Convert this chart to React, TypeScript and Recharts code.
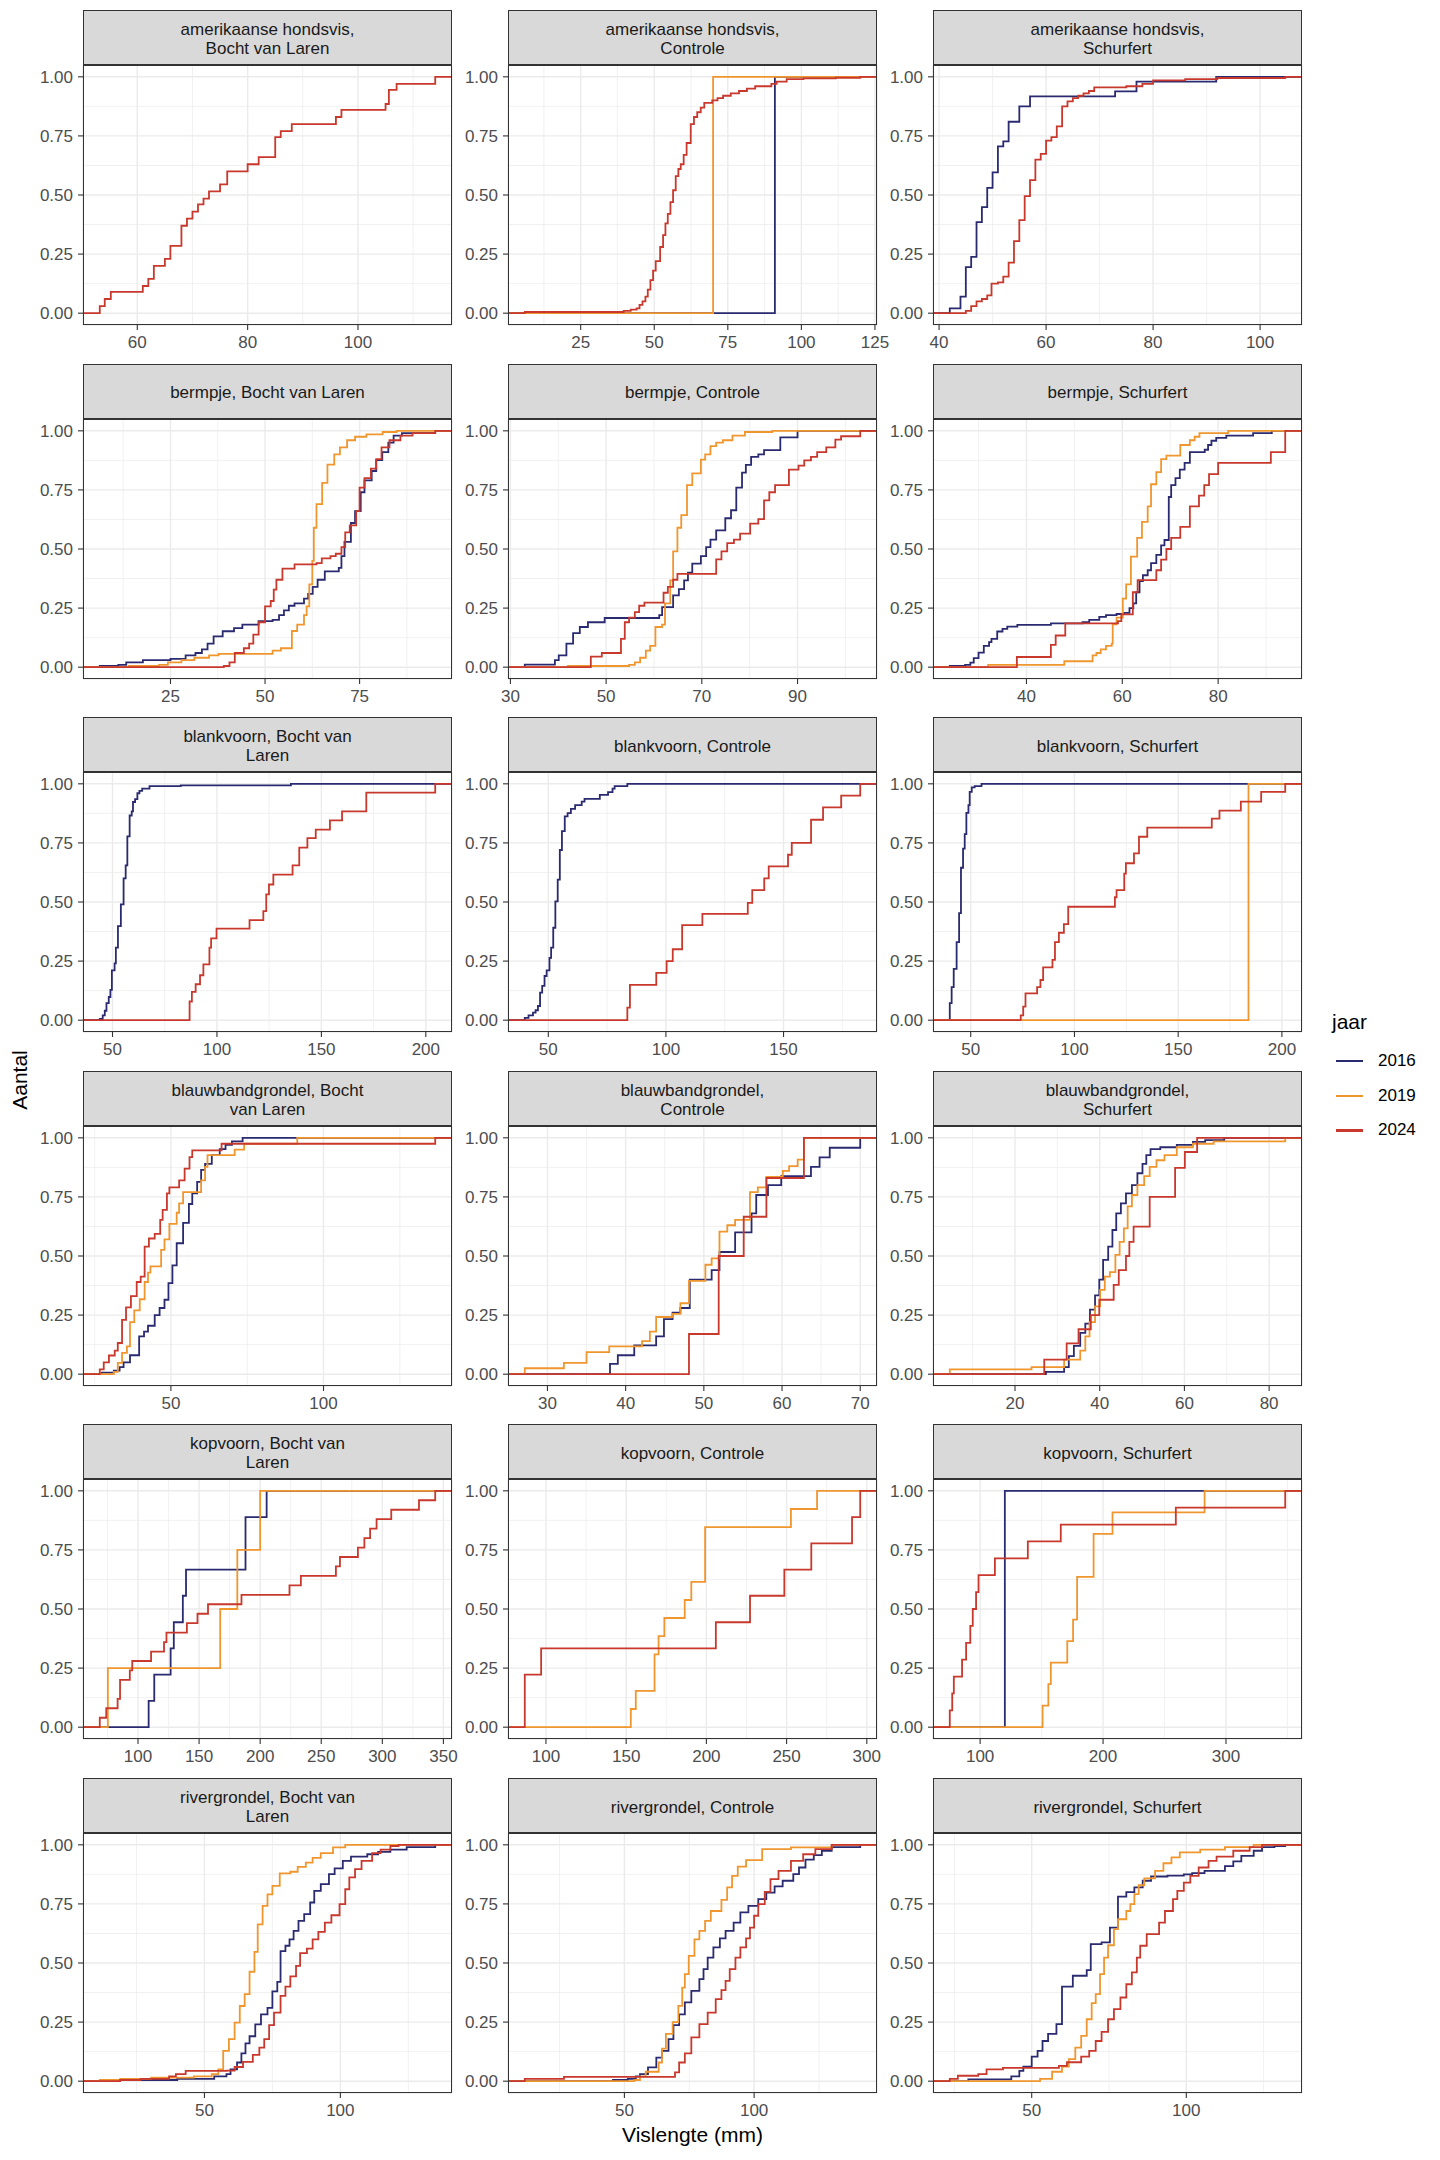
import React from 'react';
import { LineChart, Line, XAxis, YAxis, CartesianGrid } from 'recharts';

type Step = [number, number];

// ---- data: ECDF steps per species / location / year ----
const amhBocht2024: Step[] = [[53.2,0.03],[54.1,0.06],[55.2,0.09],[61,0.115],[62,0.145],[63,0.2],[65,0.23],[66,0.285],[68,0.37],[69,0.4],[70,0.43],[71,0.46],[72,0.485],[73,0.515],[75,0.545],[76.3,0.6],[80,0.63],[82,0.66],[85,0.745],[86,0.77],[88,0.8],[96,0.83],[97,0.86],[105,0.885],[105.6,0.945],[107,0.97],[114,1]];

const amhControle2016: Step[] = [[91,1]];
const amhControle2019: Step[] = [[70,1]];
const amhControle2024: Step[] = [[6,0.005],[39.6,0.01],[42,0.015],[44,0.02],[45,0.035],[46,0.05],[47,0.07],[47.8,0.1],[48.7,0.14],[49.6,0.18],[50.5,0.22],[52,0.28],[53,0.33],[53.8,0.38],[54.6,0.42],[55.5,0.47],[56.4,0.52],[57.3,0.58],[58.2,0.61],[59,0.63],[60,0.67],[61,0.72],[62.4,0.8],[63.5,0.83],[64.6,0.85],[65.8,0.87],[67,0.89],[69.7,0.9],[71.5,0.91],[73.4,0.92],[76,0.93],[78.8,0.94],[81.5,0.95],[84.3,0.96],[89.8,0.97],[91.6,0.98],[95,0.99],[100.7,0.993],[111.7,0.996],[120,1]];

const amhSchurfert2016: Step[] = [[42,0.02],[44,0.07],[45,0.195],[46,0.238],[47,0.385],[48,0.449],[49,0.53],[50,0.596],[51,0.706],[52,0.727],[53,0.81],[55,0.875],[57,0.917],[72.9,0.938],[76.9,0.98],[91.8,1]];
const amhSchurfert2024: Step[] = [[45,0.01],[46,0.03],[47,0.05],[48,0.06],[49,0.075],[49.8,0.125],[51,0.13],[52,0.155],[53,0.214],[54,0.305],[55,0.394],[56,0.495],[57,0.563],[58,0.65],[59,0.674],[60,0.73],[61,0.745],[62,0.79],[63,0.875],[64,0.896],[65,0.91],[66,0.92],[67,0.93],[68,0.94],[69,0.955],[75,0.96],[78,0.97],[80,0.985],[86,0.99],[92,0.995],[104.7,1]];

const bermBocht2016: Step[] = [[6.3,0.005],[11.2,0.01],[13.3,0.02],[17.7,0.03],[25,0.035],[29,0.05],[31.6,0.06],[33.3,0.075],[34.8,0.1],[36.4,0.13],[38.8,0.152],[41.8,0.165],[44,0.18],[48.3,0.195],[52,0.2],[53.7,0.22],[55,0.24],[56.3,0.26],[57.8,0.27],[60.3,0.29],[61.4,0.31],[62.6,0.34],[63.9,0.37],[65.8,0.405],[69.5,0.42],[70.2,0.47],[71,0.53],[72.7,0.61],[73.8,0.66],[75.3,0.74],[76.3,0.79],[78.2,0.83],[79.4,0.876],[81,0.91],[82.6,0.95],[84,0.98],[86.2,0.99],[95,1]];
const bermBocht2019: Step[] = [[14,0.005],[22,0.01],[24.3,0.02],[27.9,0.03],[31.3,0.04],[35.2,0.05],[37.7,0.056],[52,0.07],[54.2,0.08],[57.1,0.153],[58.5,0.18],[60.3,0.22],[61,0.257],[61.7,0.35],[62.5,0.45],[62.9,0.59],[63.6,0.69],[65.1,0.78],[66.5,0.857],[68.3,0.9],[69.8,0.93],[71.7,0.96],[73.8,0.975],[76.8,0.985],[81.1,0.995],[84.8,1]];
const bermBocht2024: Step[] = [[39.1,0.005],[40.6,0.02],[42,0.06],[44.4,0.08],[45.8,0.1],[46.9,0.138],[48.3,0.19],[50,0.257],[51.5,0.28],[52.3,0.328],[53,0.37],[54.6,0.417],[57.8,0.435],[63.6,0.44],[65,0.46],[67.3,0.47],[68.7,0.48],[70.2,0.508],[71.2,0.57],[72.4,0.6],[74.1,0.66],[75,0.76],[76.3,0.8],[78,0.84],[79.4,0.88],[80.8,0.93],[82.9,0.96],[85.8,0.98],[89,0.99],[95,1]];

const bermControle2016: Step[] = [[33,0.011],[39.3,0.03],[40.1,0.05],[41.7,0.1],[43.1,0.144],[44.5,0.17],[46.2,0.19],[49.7,0.208],[61.1,0.22],[61.7,0.254],[64,0.304],[65.2,0.33],[66.3,0.367],[67.1,0.4],[68,0.438],[69.8,0.47],[70.9,0.508],[71.8,0.54],[73,0.579],[74.9,0.63],[76.1,0.664],[77.2,0.76],[78.4,0.823],[79.2,0.856],[80.3,0.89],[81.8,0.9],[83,0.918],[86.4,0.972],[90,1]];
const bermControle2019: Step[] = [[42,0.005],[54.8,0.01],[56,0.02],[57.1,0.04],[58.3,0.07],[59.2,0.09],[60.3,0.17],[61.7,0.18],[62.3,0.27],[63.4,0.367],[64,0.49],[64.9,0.59],[65.7,0.643],[66.9,0.77],[68,0.82],[69.8,0.878],[70.7,0.9],[71.8,0.935],[73,0.95],[74.4,0.96],[76.4,0.98],[79,0.995],[84.7,1]];
const bermControle2024: Step[] = [[46.8,0.045],[49.1,0.06],[53.1,0.12],[53.9,0.19],[54.8,0.21],[56,0.233],[56.9,0.26],[58,0.273],[62,0.315],[62.9,0.34],[64,0.37],[64.9,0.395],[73,0.456],[74.1,0.49],[75.3,0.525],[76.7,0.54],[78,0.565],[80.1,0.607],[81.8,0.626],[83,0.706],[84.1,0.74],[85.3,0.77],[88.2,0.836],[90.2,0.853],[91.4,0.875],[92.8,0.89],[94.1,0.91],[96,0.93],[97.9,0.963],[99.1,0.977],[103.1,1]];

const bermSchurfert2016: Step[] = [[24,0.005],[27.2,0.01],[28.3,0.019],[29,0.038],[30,0.062],[31.1,0.09],[32.2,0.106],[32.7,0.12],[33.9,0.151],[35,0.162],[36,0.172],[38.1,0.179],[45.1,0.185],[51.7,0.19],[53.1,0.2],[55.2,0.213],[56.6,0.22],[58.8,0.225],[60.4,0.23],[61.5,0.25],[62.3,0.27],[62.9,0.317],[63.6,0.364],[64.3,0.389],[65.3,0.41],[66,0.44],[67.1,0.475],[68.1,0.515],[68.8,0.538],[69.7,0.72],[70.2,0.77],[71.1,0.8],[72,0.836],[73,0.864],[74.1,0.91],[77.2,0.92],[77.9,0.94],[78.6,0.958],[79.6,0.97],[81.7,0.98],[87.3,0.99],[91.2,1]];
const bermSchurfert2019: Step[] = [[32,0.01],[47.9,0.025],[53.8,0.05],[54.6,0.06],[55.5,0.075],[56.6,0.09],[57.8,0.1],[58,0.181],[58.8,0.21],[60.1,0.29],[60.8,0.35],[61.8,0.468],[63.1,0.547],[64.1,0.615],[65.3,0.68],[66,0.774],[67.1,0.825],[68.1,0.88],[69.2,0.895],[72.1,0.94],[74.1,0.96],[75.1,0.975],[76.1,0.99],[82.1,1]];
const bermSchurfert2024: Step[] = [[38,0.043],[45.1,0.094],[46.1,0.134],[48.1,0.185],[59.1,0.195],[59.8,0.223],[62.2,0.317],[63.2,0.368],[67.1,0.41],[68.1,0.455],[69.2,0.5],[70.2,0.547],[72.1,0.594],[74.1,0.68],[76,0.726],[77.1,0.77],[78.1,0.817],[80,0.864],[91,0.91],[94,1]];

const blankBocht2016: Step[] = [[43.9,0.005],[45.3,0.02],[46.3,0.04],[47.1,0.072],[48.2,0.098],[49,0.128],[49.7,0.211],[51,0.24],[51.6,0.307],[52.6,0.398],[54,0.49],[55.3,0.6],[56.3,0.655],[57.1,0.778],[58.2,0.866],[59.2,0.883],[59.8,0.923],[60.8,0.935],[61.9,0.96],[62.9,0.97],[64.2,0.98],[67.7,0.99],[82.7,0.993],[135.4,1]];
const blankBocht2024: Step[] = [[86.9,0.079],[88,0.12],[89.8,0.152],[91.9,0.19],[93.5,0.236],[96.4,0.307],[97.2,0.346],[99.8,0.387],[115.6,0.423],[122.2,0.461],[123.6,0.532],[124.9,0.574],[127,0.616],[136.2,0.655],[139.4,0.73],[143.3,0.77],[147.3,0.806],[154.1,0.845],[159.9,0.883],[171.5,0.963],[204.5,1]];

const blankControle2016: Step[] = [[40,0.01],[41.6,0.02],[43.5,0.032],[44.6,0.042],[45.6,0.06],[46.5,0.117],[47.4,0.145],[48.4,0.187],[49.3,0.211],[50.5,0.264],[51.2,0.307],[52.1,0.391],[53,0.503],[54,0.595],[54.9,0.72],[55.8,0.8],[57,0.862],[58.2,0.876],[59.6,0.894],[61.4,0.91],[64.2,0.925],[65.4,0.936],[71.9,0.953],[75.4,0.965],[77.3,0.98],[78.2,0.99],[83.6,1]];
const blankControle2024: Step[] = [[83.6,0.053],[84.7,0.149],[95.9,0.2],[100.3,0.25],[102.9,0.3],[106.9,0.402],[115.5,0.45],[134.8,0.496],[136.7,0.55],[141.8,0.6],[143.7,0.651],[151.9,0.7],[153.5,0.75],[161.7,0.848],[166.8,0.9],[174.5,0.95],[182.6,1]];

const blankSchurfert2016: Step[] = [[39.9,0.072],[40.8,0.14],[41.8,0.217],[43.2,0.33],[44.4,0.453],[45.3,0.645],[46.3,0.726],[47.1,0.787],[47.9,0.877],[48.9,0.91],[49.5,0.966],[50.5,0.985],[51.9,0.99],[55.2,1]];
const blankSchurfert2019: Step[] = [[183.9,1]];
const blankSchurfert2024: Step[] = [[74.1,0.02],[75.3,0.057],[76.4,0.113],[82,0.14],[83.6,0.17],[84.9,0.223],[89.4,0.255],[90.6,0.33],[92.5,0.37],[94.9,0.406],[97,0.48],[119.5,0.52],[120.3,0.55],[124,0.62],[124.8,0.664],[128.7,0.706],[131.1,0.776],[135.1,0.815],[166.2,0.853],[169.9,0.887],[180.2,0.925],[190,0.966],[201.6,1]];

const blauwBocht2016: Step[] = [[27.3,0.007],[31.3,0.015],[33.2,0.03],[34.5,0.05],[36.6,0.08],[39.6,0.16],[41.2,0.18],[42.5,0.205],[44.7,0.25],[46.3,0.28],[47.9,0.315],[49.2,0.385],[50.5,0.46],[51.9,0.554],[54,0.64],[55.9,0.72],[57,0.765],[58.6,0.814],[59.9,0.864],[61.2,0.89],[63.4,0.927],[66,0.952],[67.9,0.97],[70,0.985],[73.5,1]];
const blauwBocht2019: Step[] = [[31.3,0.01],[32.6,0.048],[34,0.09],[35.6,0.118],[36.6,0.22],[38,0.27],[39.8,0.317],[41.4,0.39],[42.5,0.43],[43.3,0.456],[46.8,0.526],[47.9,0.57],[49.5,0.636],[51.9,0.683],[52.7,0.723],[54,0.77],[59.9,0.82],[61.2,0.877],[62,0.927],[70.9,0.95],[74,0.975],[91.4,1]];
const blauwBocht2024: Step[] = [[26.7,0.02],[28,0.05],[29.7,0.079],[31.6,0.1],[32.6,0.132],[34,0.23],[35.3,0.283],[36.9,0.33],[38.8,0.39],[40.1,0.413],[41.4,0.54],[42.8,0.574],[44.7,0.594],[46.5,0.653],[47.3,0.695],[48.7,0.765],[49.5,0.79],[52.7,0.82],[54.5,0.87],[56.1,0.918],[57,0.947],[66.6,0.975],[136.6,1]];

const blauwControle2016: Step[] = [[38,0.044],[39,0.08],[41.1,0.122],[43.9,0.16],[44.9,0.233],[46,0.26],[47,0.28],[48.2,0.4],[51,0.44],[52,0.517],[54,0.6],[56.1,0.68],[56.7,0.758],[58.2,0.8],[59.9,0.838],[63.7,0.877],[64.8,0.917],[66.1,0.958],[70,1]];
const blauwControle2019: Step[] = [[27.1,0.025],[32.1,0.048],[35,0.093],[37.9,0.118],[42.1,0.14],[43.1,0.18],[43.9,0.242],[46,0.255],[47,0.3],[48.1,0.395],[50.2,0.463],[51,0.49],[52,0.603],[53,0.63],[54,0.653],[55.9,0.77],[56.9,0.79],[58,0.835],[60.1,0.86],[60.9,0.88],[62,0.908],[62.8,1]];
const blauwControle2024: Step[] = [[48.1,0.17],[51.9,0.5],[55.1,0.666],[58,0.83],[62.8,1]];

const blauwSchurfert2016: Step[] = [[27.3,0.01],[31.6,0.03],[32.7,0.076],[33.9,0.12],[35.4,0.175],[36.6,0.214],[37.7,0.273],[38.9,0.333],[39.9,0.4],[40.8,0.484],[42,0.54],[43,0.61],[43.9,0.68],[45,0.723],[46.2,0.765],[47.6,0.8],[48.9,0.85],[50.1,0.89],[51,0.927],[52,0.952],[54.3,0.96],[58.2,0.97],[62,0.983],[64.9,0.99],[69.4,1]];
const blauwSchurfert2019: Step[] = [[4.6,0.02],[23.9,0.03],[31.6,0.062],[35.4,0.1],[36.6,0.16],[37.6,0.22],[38.9,0.287],[40.1,0.357],[41.2,0.413],[42.4,0.432],[43.7,0.505],[44.7,0.56],[45.7,0.617],[46.6,0.71],[47.6,0.758],[48.9,0.8],[50.5,0.838],[51.8,0.877],[53.4,0.905],[55.3,0.927],[58.2,0.96],[62,0.975],[66.9,0.985],[83.8,1]];
const blauwSchurfert2024: Step[] = [[26.9,0.062],[32.2,0.13],[35,0.19],[37.9,0.25],[39.9,0.315],[43.3,0.378],[44.5,0.44],[46.2,0.5],[47,0.56],[48,0.624],[51.8,0.75],[57.8,0.873],[60.1,0.94],[63,1]];

const kopBocht2016: Step[] = [[108.7,0.111],[113.3,0.222],[126.7,0.333],[129.3,0.444],[136.7,0.556],[139.3,0.667],[188,0.889],[205.3,1]];
const kopBocht2019: Step[] = [[75.3,0.25],[167.3,0.5],[181.3,0.75],[200,1]];
const kopBocht2024: Step[] = [[68.7,0.04],[74,0.08],[83.3,0.12],[85.3,0.2],[93.3,0.24],[95.3,0.28],[110.7,0.32],[121.3,0.36],[123.3,0.4],[140,0.44],[148.7,0.48],[157.3,0.52],[184.7,0.56],[224,0.6],[233.3,0.64],[262,0.68],[265.3,0.72],[280,0.76],[285.3,0.8],[290,0.84],[295.3,0.88],[307.3,0.92],[330,0.96],[343.3,1]];

const kopControle2019: Step[] = [[152.9,0.077],[156,0.154],[167.7,0.308],[170.2,0.385],[173.8,0.462],[186.5,0.538],[190.6,0.615],[199.2,0.846],[252.7,0.923],[269,1]];
const kopControle2024: Step[] = [[86.8,0.222],[97,0.333],[205.9,0.444],[227.2,0.556],[248.6,0.667],[265.4,0.778],[290.8,0.889],[295.9,1]];

const kopSchurfert2016: Step[] = [[120.1,1]];
const kopSchurfert2019: Step[] = [[150.8,0.091],[155.5,0.182],[157.5,0.273],[170.9,0.364],[175.6,0.455],[178.9,0.636],[192.3,0.818],[207.7,0.909],[282.6,1]];
const kopSchurfert2024: Step[] = [[75.3,0.071],[77.3,0.143],[78.6,0.214],[85.3,0.286],[88.6,0.357],[92,0.429],[94,0.5],[96.7,0.571],[98.7,0.643],[112,0.714],[138.8,0.786],[165.6,0.857],[259.2,0.929],[348.2,1]];

const rivBocht2016: Step[] = [[13,0.005],[40,0.01],[53.6,0.02],[58.1,0.03],[59.6,0.05],[62,0.079],[63.6,0.118],[65.1,0.16],[66.6,0.19],[68.7,0.24],[70.8,0.283],[73.2,0.31],[75,0.38],[76.8,0.42],[78,0.55],[79.8,0.573],[81.3,0.6],[82.8,0.636],[84.6,0.678],[86.7,0.707],[88.9,0.756],[90.4,0.805],[92.8,0.834],[95.8,0.876],[97.9,0.9],[100.9,0.932],[103.9,0.95],[109.9,0.96],[113.9,0.97],[118.4,0.98],[124.4,0.99],[134.9,1]];
const rivBocht2019: Step[] = [[11.5,0.005],[19,0.01],[30.4,0.015],[46.1,0.02],[52.7,0.03],[55.1,0.05],[56.9,0.128],[59,0.178],[61.1,0.248],[63,0.318],[64.8,0.368],[66.6,0.463],[68.4,0.547],[69.6,0.663],[71.4,0.742],[73.2,0.79],[75,0.826],[77.7,0.879],[81.6,0.886],[84.3,0.907],[87.3,0.925],[89.8,0.945],[92.8,0.965],[97.3,0.989],[101.8,1]];
const rivBocht2024: Step[] = [[19,0.005],[26.5,0.01],[37,0.02],[39.5,0.03],[43.1,0.044],[58.1,0.045],[61.1,0.06],[64.2,0.082],[67.8,0.111],[70.2,0.142],[72,0.178],[73.8,0.237],[75.6,0.29],[78,0.361],[79.8,0.4],[81.6,0.443],[83.7,0.488],[85.2,0.542],[87.7,0.561],[89.8,0.6],[91.9,0.632],[94.3,0.671],[96.7,0.702],[99.7,0.749],[101.8,0.812],[103.3,0.862],[105.4,0.897],[107.8,0.932],[111.7,0.965],[114.8,0.98],[118.4,0.995],[121.4,1]];

const rivControle2016: Step[] = [[45.6,0.005],[51.3,0.01],[54.4,0.02],[56,0.03],[59.1,0.058],[62.3,0.1],[64.5,0.128],[67,0.178],[68.9,0.237],[71.1,0.283],[73.3,0.333],[75.8,0.382],[78.9,0.432],[80.5,0.474],[82.1,0.523],[84.3,0.566],[86.8,0.604],[89,0.636],[92.1,0.671],[94.7,0.714],[97.8,0.742],[101.6,0.77],[104.7,0.798],[107.9,0.824],[111,0.848],[115.1,0.876],[117.3,0.904],[119.8,0.937],[123,0.956],[126.1,0.975],[129.9,0.99],[140.9,1]];
const rivControle2019: Step[] = [[53.8,0.005],[56,0.02],[58.2,0.04],[63.2,0.079],[64.5,0.138],[66,0.2],[68.6,0.25],[70.8,0.319],[72.3,0.396],[73.3,0.453],[74.8,0.53],[77,0.6],[78.9,0.636],[81.1,0.678],[83.3,0.72],[87.4,0.767],[89.6,0.82],[91.5,0.869],[93.7,0.908],[96.9,0.935],[103.1,0.982],[114.2,0.989],[129.9,1]];
const rivControle2024: Step[] = [[11.6,0.01],[26.7,0.018],[69.5,0.037],[71.1,0.079],[73.3,0.118],[75.8,0.185],[78.9,0.241],[82.1,0.29],[85.2,0.347],[87.4,0.385],[89,0.424],[90.6,0.474],[92.8,0.523],[94.7,0.566],[96.9,0.604],[98.4,0.65],[100,0.7],[101.6,0.749],[104.1,0.801],[106.3,0.855],[109.4,0.89],[114.2,0.932],[118.9,0.96],[123.6,0.982],[129.9,1]];

const rivSchurfert2016: Step[] = [[29.5,0.008],[43.4,0.02],[46,0.044],[47.3,0.062],[50,0.104],[51.9,0.128],[53.5,0.17],[55.3,0.2],[58,0.241],[59.8,0.4],[63.3,0.446],[67.8,0.47],[69.1,0.58],[72.6,0.587],[75.3,0.65],[77.9,0.781],[80.6,0.8],[83.2,0.82],[85.9,0.848],[88.6,0.866],[93.9,0.87],[99.2,0.875],[101.9,0.88],[105.9,0.89],[112.5,0.91],[115.2,0.93],[117.8,0.953],[121.8,0.975],[124.5,0.99],[128.5,0.995],[132,1]];
const rivSchurfert2019: Step[] = [[52.7,0.01],[56.6,0.04],[59.8,0.062],[62,0.093],[64.1,0.142],[66,0.192],[67.8,0.262],[69.4,0.33],[70.7,0.368],[72.1,0.453],[73.4,0.523],[74.7,0.575],[76.6,0.643],[77.9,0.685],[80.6,0.72],[81.9,0.749],[83.2,0.791],[84.6,0.829],[86.4,0.858],[89.9,0.89],[92.6,0.922],[95.2,0.947],[97.9,0.968],[104.5,0.98],[112.5,0.99],[121.8,1]];
const rivSchurfert2024: Step[] = [[23.5,0.01],[26.1,0.023],[32.7,0.03],[35.4,0.05],[40.7,0.056],[58.8,0.065],[61.4,0.08],[66,0.104],[68.6,0.128],[70.7,0.17],[72.6,0.209],[74.7,0.262],[76.6,0.305],[78.7,0.354],[80.6,0.41],[82.4,0.46],[84,0.523],[85.1,0.573],[87.2,0.622],[91.2,0.671],[93.1,0.72],[95.7,0.77],[97.1,0.805],[99.2,0.84],[101.3,0.869],[104,0.904],[107.2,0.932],[109.8,0.95],[115.2,0.975],[120.5,0.99],[124.5,1]];

const years = ['2016', '2019', '2024'];
const yTicks = [0, 0.25, 0.5, 0.75, 1];

const stripLabels = [
    'amerikaanse hondsvis,\nBocht van Laren', 'amerikaanse hondsvis,\nControle', 'amerikaanse hondsvis,\nSchurfert',
    'bermpje, Bocht van Laren', 'bermpje, Controle', 'bermpje, Schurfert',
    'blankvoorn, Bocht van\nLaren', 'blankvoorn, Controle', 'blankvoorn, Schurfert',
    'blauwbandgrondel, Bocht\nvan Laren', 'blauwbandgrondel,\nControle', 'blauwbandgrondel,\nSchurfert',
    'kopvoorn, Bocht van\nLaren', 'kopvoorn, Controle', 'kopvoorn, Schurfert',
    'rivergrondel, Bocht van\nLaren', 'rivergrondel, Controle', 'rivergrondel, Schurfert',
];

const xTicks = [
    [60, 80, 100], [25, 50, 75, 100, 125], [40, 60, 80, 100],
    [25, 50, 75], [30, 50, 70, 90], [40, 60, 80],
    [50, 100, 150, 200], [50, 100, 150], [50, 100, 150, 200],
    [50, 100], [30, 40, 50, 60, 70], [20, 40, 60, 80],
    [100, 150, 200, 250, 300, 350], [100, 150, 200, 250, 300], [100, 200, 300],
    [50, 100], [50, 100], [50, 100],
];

// series per panel, in year order (null = no fish that year)
const panelSeries: (Step[] | null)[][] = [
    [null, null, amhBocht2024], [amhControle2016, amhControle2019, amhControle2024], [amhSchurfert2016, null, amhSchurfert2024],
    [bermBocht2016, bermBocht2019, bermBocht2024], [bermControle2016, bermControle2019, bermControle2024], [bermSchurfert2016, bermSchurfert2019, bermSchurfert2024],
    [blankBocht2016, null, blankBocht2024], [blankControle2016, null, blankControle2024], [blankSchurfert2016, blankSchurfert2019, blankSchurfert2024],
    [blauwBocht2016, blauwBocht2019, blauwBocht2024], [blauwControle2016, blauwControle2019, blauwControle2024], [blauwSchurfert2016, blauwSchurfert2019, blauwSchurfert2024],
    [kopBocht2016, kopBocht2019, kopBocht2024], [null, kopControle2019, kopControle2024], [kopSchurfert2016, kopSchurfert2019, kopSchurfert2024],
    [rivBocht2016, rivBocht2019, rivBocht2024], [rivControle2016, rivControle2019, rivControle2024], [rivSchurfert2016, rivSchurfert2019, rivSchurfert2024],
];

const COLORS: Record<string, string> = { '2016': '#2A2A70', '2019': '#F0962E', '2024': '#C8382C' };
const FONT = '"Liberation Sans", Arial, Helvetica, sans-serif';

// layout (px)
const COL_LEFT = [83, 508, 933];
const PW = 369;
const PH = 260;
const STRIP_H = 55;
const ROW_TOP = 10;
const ROW_PITCH = 353.6;
const YW = 60;
const XH = 32;
const RM = 24; // room right of the plot so the last tick label is not clipped

function Panel({ index }: { index: number }) {
    const row = Math.floor(index / 3);
    const col = index % 3;
    const left = COL_LEFT[col];
    const stripTop = ROW_TOP + row * ROW_PITCH;
    const plotTop = stripTop + STRIP_H;

    const series = panelSeries[index];
    const present = series.filter((s): s is Step[] => !!s);
    const lo = Math.min(...present.map((s) => s[0][0]));
    const hi = Math.max(...present.map((s) => s[s.length - 1][0]));
    const pad = (hi - lo) * 0.05;
    const domain: [number, number] = [lo - pad, hi + pad];

    const ticks = xTicks[index];
    const step = ticks.length > 1 ? ticks[1] - ticks[0] : 50;
    const minorX: number[] = [];
    for (let v = ticks[0] - step * 1.5; v <= domain[1]; v += step) {
        if (v >= domain[0] && v <= domain[1] && !ticks.includes(v)) minorX.push(v);
    }

    return (
        <>
            <div
                style={{
                    position: 'absolute', left, top: stripTop, width: PW, height: STRIP_H,
                    boxSizing: 'border-box', background: '#D9D9D9', border: '1.4px solid #333333',
                    display: 'flex', alignItems: 'center', justifyContent: 'center',
                    textAlign: 'center', whiteSpace: 'pre-line', fontFamily: FONT,
                    fontSize: 17, lineHeight: '19px', color: '#1A1A1A', paddingTop: 3,
                }}
            >
                {stripLabels[index]}
            </div>
            <div style={{ position: 'absolute', left: left - YW, top: plotTop }}>
                <LineChart width={YW + PW + RM} height={PH + XH} margin={{ top: 0, right: RM, bottom: 0, left: 0 }}>
                    <CartesianGrid
                        stroke="#EBEBEB"
                        strokeWidth={0.7}
                        horizontalValues={[0.125, 0.375, 0.625, 0.875]}
                        verticalValues={minorX}
                    />
                    <CartesianGrid stroke="#EBEBEB" strokeWidth={1.4} />
                    <XAxis
                        type="number"
                        dataKey="x"
                        domain={domain}
                        ticks={ticks}
                        interval={0}
                        allowDataOverflow
                        axisLine={false}
                        tickSize={5}
                        tickMargin={6}
                        height={XH}
                        tickLine={{ stroke: '#333333', strokeWidth: 1.1 }}
                        tick={{ fontSize: 17, fill: '#4D4D4D', fontFamily: FONT }}
                    />
                    <YAxis
                        type="number"
                        domain={[-0.05, 1.05]}
                        ticks={yTicks}
                        interval={0}
                        allowDataOverflow
                        axisLine={false}
                        tickSize={5}
                        tickMargin={5}
                        width={YW}
                        tickFormatter={(v: number) => v.toFixed(2)}
                        tickLine={{ stroke: '#333333', strokeWidth: 1.1 }}
                        tick={{ fontSize: 17, fill: '#4D4D4D', fontFamily: FONT }}
                    />
                    {series.map((s, i) => {
                        if (!s) return null;
                        const data = [
                            { x: domain[0], y: 0 },
                            ...s.map(([x, y]) => ({ x, y })),
                            { x: domain[1], y: 1 },
                        ];
                        return (
                            <Line
                                key={years[i]}
                                data={data}
                                dataKey="y"
                                type="stepAfter"
                                stroke={COLORS[years[i]]}
                                strokeWidth={1.8}
                                dot={false}
                                activeDot={false}
                                isAnimationActive={false}
                            />
                        );
                    })}
                </LineChart>
            </div>
            <div
                style={{
                    position: 'absolute', left, top: plotTop, width: PW, height: PH,
                    boxSizing: 'border-box', border: '1.4px solid #333333', pointerEvents: 'none',
                }}
            />
        </>
    );
}

export default function App() {
    return (
        <div
            style={{
                position: 'absolute', left: 0, top: 0, width: 1440, height: 2160,
                background: '#FFFFFF', fontFamily: FONT, overflow: 'hidden',
            }}
        >
            {stripLabels.map((_, i) => <Panel key={i} index={i} />)}

            {/* axis titles */}
            <div style={{ position: 'absolute', left: 83, width: 1219, top: 2123, textAlign: 'center', fontSize: 21, color: '#000' }}>
                Vislengte (mm)
            </div>
            <div
                style={{
                    position: 'absolute', left: 20, top: 1080, fontSize: 21, color: '#000',
                    transform: 'translate(-50%, -50%) rotate(-90deg)', whiteSpace: 'nowrap',
                }}
            >
                Aantal
            </div>

            {/* legend */}
            <div style={{ position: 'absolute', left: 1332, top: 1010, fontSize: 21, color: '#000' }}>jaar</div>
            {years.map((yr, i) => {
                const cy = 1061 + i * 34.7;
                return (
                    <React.Fragment key={yr}>
                        <div style={{ position: 'absolute', left: 1336, top: cy - 1, width: 27, height: 2.2, background: COLORS[yr] }} />
                        <div style={{ position: 'absolute', left: 1378, top: cy - 11, fontSize: 17, lineHeight: '22px', color: '#000' }}>{yr}</div>
                    </React.Fragment>
                );
            })}
        </div>
    );
}
